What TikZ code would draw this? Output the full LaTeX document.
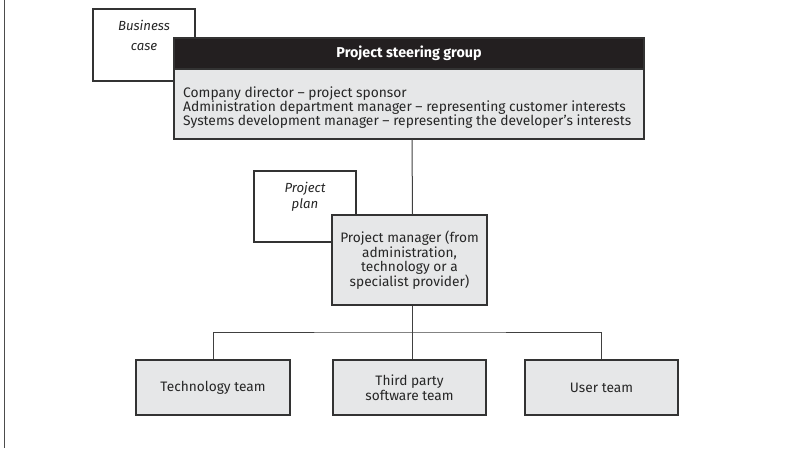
\documentclass[tikz,border=0pt]{standalone}
\usepackage{fontspec}
\setmainfont{Fira Sans}
\definecolor{hdr}{HTML}{231F20}
\definecolor{boxfill}{HTML}{E6E7E8}
\begin{document}
\begin{tikzpicture}[x=1pt,y=-1pt,
  txt/.style={font=\fontsize{13.7}{14.6}\selectfont, text=black!85},
  greybox/.style={draw=black!80, line width=1.1pt, fill=boxfill, inner sep=0pt, txt},
  docbox/.style={draw=black!80, line width=1.1pt, fill=white, inner sep=0pt},
  link/.style={draw=black!75, line width=1pt}]
\useasboundingbox (0,0) rectangle (803,448);
\draw[black!70, line width=1.4pt] (4.5,0) -- (4.5,448);
% business case
\node[docbox, minimum width=102, minimum height=72] (bc) at (144,45) {};
\node[text=black!85, font=\fontsize{13.2}{20}\selectfont\itshape, align=center, anchor=north, inner sep=0pt] (bct) at (144,19.5) {Business\\case};
% steering group
\node[greybox, minimum width=470, minimum height=70] (sgb) at (409,104) {};
\node[draw=black!80, line width=1.1pt, fill=hdr, minimum width=470, minimum height=31, inner sep=0pt,
      font=\fontsize{14.3}{16}\selectfont\bfseries, text=white] (sg) at (409,53.5) {Project steering group};
\node[txt, font=\fontsize{13.8}{14}\selectfont, align=left, anchor=west, inner sep=0pt] (sgt) at (183,108) {Company director -- project sponsor\\Administration department manager -- representing customer interests\\Systems development manager -- representing the developer’s interests};
% project plan
\node[docbox, minimum width=102, minimum height=71] (pp) at (305,206.5) {};
\node[text=black!85, font=\fontsize{13.2}{16}\selectfont\itshape, align=center, anchor=north, inner sep=0pt] (ppt) at (305,181.5) {Project\\plan};
% project manager
\node[greybox, minimum width=155, minimum height=90, align=center] (pm) at (409.5,260) {Project manager (from\\administration,\\technology or a\\specialist provider)};
% teams
\node[greybox, minimum width=154, minimum height=55, align=center] (tt) at (213,387.5) {Technology team};
\node[greybox, minimum width=153, minimum height=55, align=center] (tp) at (409.5,387.5) {Third party\\software team};
\node[greybox, minimum width=153, minimum height=55, align=center] (ut) at (601.5,387.5) {User team};
% connectors
\coordinate (j) at (412.5,332);
\path[link] ([xshift=3pt]sgb.south) -- ([xshift=3pt]pm.north);
\path[link] ([xshift=3pt]pm.south) -- (j);
\path[link] (tt.north) |- (j) -| (ut.north);
\path[link] (j) -- ([xshift=3pt]tp.north);
\end{tikzpicture}
\end{document}
